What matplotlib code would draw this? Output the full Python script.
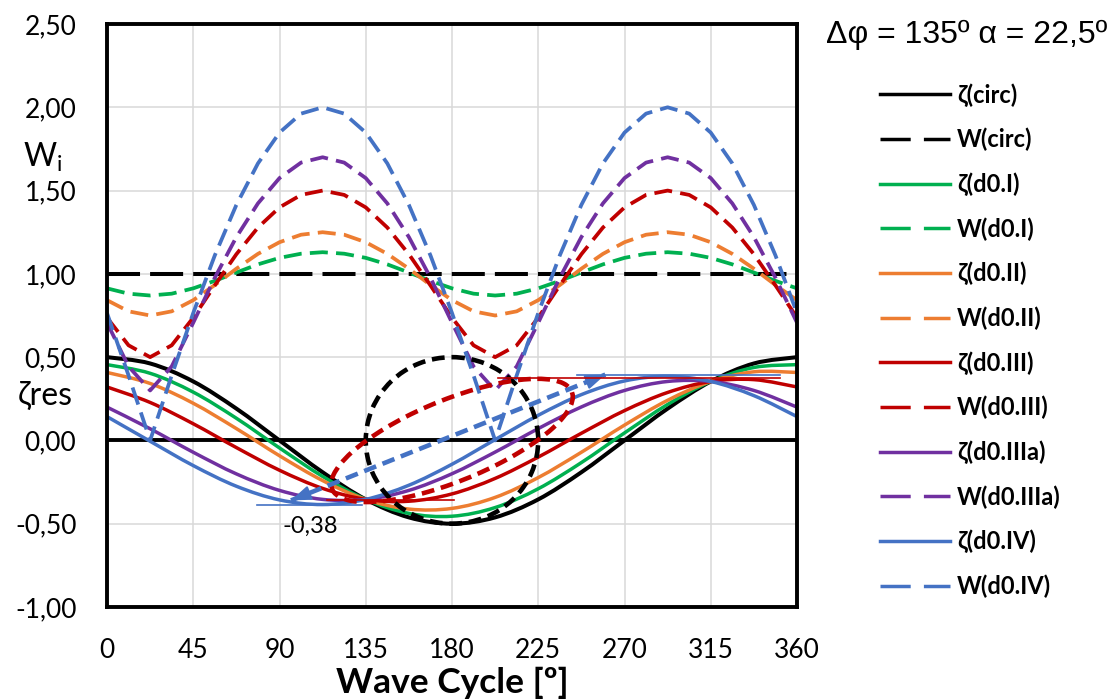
import matplotlib.pyplot as plt
from matplotlib.lines import Line2D
from matplotlib.path import Path
from matplotlib.patches import PathPatch
from matplotlib.ticker import FuncFormatter

plt.rcParams['font.family'] = ['Lato', 'DejaVu Sans']

# --- data ---
x_zeta = [0, 22.5, 45, 67.5, 90, 112.5, 135, 157.5, 180, 202.5, 225, 247.5,
          270, 292.5, 315, 337.5, 360]
zeta_circ = [0.500, 0.462, 0.354, 0.191, 0.000, -0.191, -0.354, -0.462, -0.500,
             -0.462, -0.354, -0.191, 0.000, 0.191, 0.354, 0.462, 0.500]
zeta_i = [0.455, 0.403, 0.290, 0.133, -0.045, -0.216, -0.354, -0.438, -0.455,
          -0.403, -0.290, -0.133, 0.045, 0.216, 0.354, 0.438, 0.455]
zeta_ii = [0.408, 0.342, 0.223, 0.071, -0.092, -0.241, -0.354, -0.412, -0.408,
           -0.342, -0.223, -0.071, 0.092, 0.241, 0.354, 0.412, 0.408]
zeta_iii = [0.321, 0.228, 0.100, -0.043, -0.179, -0.288, -0.354, -0.365, -0.321,
            -0.228, -0.100, 0.043, 0.179, 0.288, 0.354, 0.365, 0.321]
zeta_iiia = [0.200, 0.070, -0.071, -0.201, -0.300, -0.354, -0.354, -0.300, -0.200,
             -0.070, 0.071, 0.201, 0.300, 0.354, 0.354, 0.300, 0.200]
zeta_iv = [0.143, -0.005, -0.151, -0.275, -0.357, -0.385, -0.354, -0.269, -0.143,
           0.005, 0.151, 0.275, 0.357, 0.385, 0.354, 0.269, 0.143]

x_w = [0, 11.25, 22.5, 33.75, 45, 56.25, 67.5, 78.75, 90, 101.25, 112.5, 123.75,
       135, 146.25, 157.5, 168.75, 180, 191.25, 202.5, 213.75, 225, 236.25, 247.5,
       258.75, 270, 281.25, 292.5, 303.75, 315, 326.25, 337.5, 348.75, 360]
x_w_circ = [0, 360]
w_circ = [1.0, 1.0]
w_i = [0.913, 0.881, 0.870, 0.881, 0.913, 0.958, 1.008, 1.057, 1.096, 1.121, 1.130,
       1.121, 1.096, 1.057, 1.008, 0.958, 0.913, 0.881, 0.870, 0.881, 0.913, 0.958,
       1.008, 1.057, 1.096, 1.121, 1.130, 1.121, 1.096, 1.057, 1.008, 0.958, 0.913]
w_ii = [0.842, 0.775, 0.750, 0.775, 0.842, 0.933, 1.031, 1.120, 1.190, 1.235, 1.250,
        1.235, 1.190, 1.120, 1.031, 0.933, 0.842, 0.775, 0.750, 0.775, 0.842, 0.933,
        1.031, 1.120, 1.190, 1.235, 1.250, 1.235, 1.190, 1.120, 1.031, 0.933, 0.842]
w_iii = [0.737, 0.571, 0.500, 0.571, 0.737, 0.931, 1.118, 1.278, 1.399, 1.474, 1.500,
         1.474, 1.399, 1.278, 1.118, 0.931, 0.737, 0.571, 0.500, 0.571, 0.737, 0.931,
         1.118, 1.278, 1.399, 1.474, 1.500, 1.474, 1.399, 1.278, 1.118, 0.931, 0.737]
w_iiia = [0.707, 0.444, 0.300, 0.444, 0.707, 0.977, 1.221, 1.423, 1.575, 1.668, 1.700,
          1.668, 1.575, 1.423, 1.221, 0.977, 0.707, 0.444, 0.300, 0.444, 0.707, 0.977,
          1.221, 1.423, 1.575, 1.668, 1.700, 1.668, 1.575, 1.423, 1.221, 0.977, 0.707]
w_iv = [0.765, 0.390, 0.000, 0.390, 0.765, 1.111, 1.414, 1.663, 1.848, 1.962, 2.000,
        1.962, 1.848, 1.663, 1.414, 1.111, 0.765, 0.390, 0.000, 0.390, 0.765, 1.111,
        1.414, 1.663, 1.848, 1.962, 2.000, 1.962, 1.848, 1.663, 1.414, 1.111, 0.765]

# particle orbits drawn over the chart
orbit_circ_x = [180, 188.8, 197.2, 205.0, 211.8, 217.4, 221.6, 224.1, 225, 224.1, 221.6,
                217.4, 211.8, 205.0, 197.2, 188.8, 180, 171.2, 162.8, 155.0, 148.2, 142.6,
                138.4, 135.9, 135, 135.9, 138.4, 142.6, 148.2, 155.0, 162.8, 171.2, 180]
orbit_circ_y = [0.5, 0.490, 0.462, 0.416, 0.354, 0.278, 0.191, 0.098, 0, -0.098, -0.191,
                -0.278, -0.354, -0.416, -0.462, -0.490, -0.5, -0.490, -0.462, -0.416,
                -0.354, -0.278, -0.191, -0.098, 0, 0.098, 0.191, 0.278, 0.354, 0.416,
                0.462, 0.490, 0.5]
orbit_iii_x = [224.5, 232.4, 238.2, 241.8, 243.0, 241.8, 238.2, 232.4, 224.5, 215.0, 204.1,
               192.3, 180.0, 167.7, 155.9, 145.0, 135.5, 127.6, 121.8, 118.2, 117.0, 118.2,
               121.8, 127.6, 135.5, 145.0, 155.9, 167.7, 180.0, 192.3, 204.1, 215.0, 224.5]
orbit_iii_y = [0.370, 0.363, 0.342, 0.308, 0.262, 0.206, 0.142, 0.072, 0, -0.072, -0.142,
               -0.206, -0.262, -0.308, -0.342, -0.363, -0.370, -0.363, -0.342, -0.308,
               -0.262, -0.206, -0.142, -0.072, 0, 0.072, 0.142, 0.206, 0.262, 0.308,
               0.342, 0.363, 0.370]
orbit_iv_x = [96, 260]
orbit_iv_y = [-0.36, 0.395]

# thin marker lines for the extremes
min_iv_x, min_iv_y = [78, 133], [-0.385, -0.385]
min_iii_x, min_iii_y = [115, 181], [-0.36, -0.36]
max_iv_x, max_iv_y = [245, 351], [0.39, 0.39]
max_iii_x, max_iii_y = [204, 351], [0.372, 0.372]
min_label = '-0,38'

x_ticks = [0, 45, 90, 135, 180, 225, 270, 315, 360]
y_ticks = [-1.0, -0.5, 0.0, 0.5, 1.0, 1.5, 2.0, 2.5]

C_BLACK = '#000000'
C_GREEN = '#00B050'
C_ORANGE = '#ED7D31'
C_RED = '#C00000'
C_PURPLE = '#7030A0'
C_BLUE = '#4472C4'

series = [
    ('ζ(circ)', x_zeta, zeta_circ, C_BLACK, False),
    ('W(circ)', x_w_circ, w_circ, C_BLACK, True),
    ('ζ(d0.I)', x_zeta, zeta_i, C_GREEN, False),
    ('W(d0.I)', x_w, w_i, C_GREEN, True),
    ('ζ(d0.II)', x_zeta, zeta_ii, C_ORANGE, False),
    ('W(d0.II)', x_w, w_ii, C_ORANGE, True),
    ('ζ(d0.III)', x_zeta, zeta_iii, C_RED, False),
    ('W(d0.III)', x_w, w_iii, C_RED, True),
    ('ζ(d0.IIIa)', x_zeta, zeta_iiia, C_PURPLE, False),
    ('W(d0.IIIa)', x_w, w_iiia, C_PURPLE, True),
    ('ζ(d0.IV)', x_zeta, zeta_iv, C_BLUE, False),
    ('W(d0.IV)', x_w, w_iv, C_BLUE, True),
]


# smoothed line through the points (like Excel's "smoothed line")
def smooth_line(ax, xs, ys, closed=False, **kw):
    pts = list(zip(xs, ys))
    n = len(pts)
    verts = [pts[0]]
    codes = [Path.MOVETO]
    for i in range(n - 1):
        p0 = pts[i - 1] if i > 0 else (pts[-2] if closed else pts[0])
        p1, p2 = pts[i], pts[i + 1]
        p3 = pts[i + 2] if i + 2 < n else (pts[1] if closed else pts[-1])
        c1 = (p1[0] + (p2[0] - p0[0]) / 6, p1[1] + (p2[1] - p0[1]) / 6)
        c2 = (p2[0] - (p3[0] - p1[0]) / 6, p2[1] - (p3[1] - p1[1]) / 6)
        verts += [c1, c2, p2]
        codes += [Path.CURVE4] * 3
    ax.add_patch(PathPatch(Path(verts, codes), fill=False, **kw))


# --- figure ---
fig = plt.figure(figsize=(11.14, 6.99), dpi=100)
ax = fig.add_axes([107 / 1114, 1 - 607 / 699, 690 / 1114, 583 / 699])

ax.grid(True, color='#D9D9D9', lw=1.1)
ax.set_axisbelow(True)
ax.axhline(0, color=C_BLACK, lw=2.8, zorder=1.5)

handles = []
for label, xs, ys, col, dashed in series:
    if dashed:
        dash = (8.2, 2.5) if col == C_BLACK else (4.8, 2.2)
        lw = 2.9 if col == C_BLACK else 2.7
        ax.plot(xs, ys, color=col, lw=lw, dashes=dash, zorder=2)
        handles.append(Line2D([], [], color=col, lw=2.5, dashes=(8.7, 3.8), label=label))
    else:
        lw = 2.9 if col == C_BLACK else 2.5
        smooth_line(ax, xs, ys, edgecolor=col, lw=lw, zorder=2)
        handles.append(Line2D([], [], color=col, lw=2.5, label=label))

# orbits
smooth_line(ax, orbit_circ_x, orbit_circ_y, closed=True, edgecolor=C_BLACK, lw=3.3,
            linestyle=(0, (2.8, 1.5)), zorder=3)
smooth_line(ax, orbit_iii_x, orbit_iii_y, closed=True, edgecolor=C_RED, lw=3.3,
            linestyle=(0, (2.8, 1.5)), zorder=3)
ax.plot(orbit_iv_x, orbit_iv_y, color=C_BLUE, lw=3.3, dashes=(2.8, 1.5), zorder=3)
ax.annotate('', xy=(orbit_iv_x[0], orbit_iv_y[0]), xytext=(106, -0.314),
            arrowprops=dict(arrowstyle='-|>,head_length=0.6,head_width=0.22',
                            color=C_BLUE, lw=1.5, mutation_scale=20,
                            shrinkA=0, shrinkB=0), zorder=3)
ax.annotate('', xy=(orbit_iv_x[1], orbit_iv_y[1]), xytext=(250, 0.349),
            arrowprops=dict(arrowstyle='-|>,head_length=0.6,head_width=0.22',
                            color=C_BLUE, lw=1.5, mutation_scale=20,
                            shrinkA=0, shrinkB=0), zorder=3)

ax.plot(min_iv_x, min_iv_y, color=C_BLUE, lw=1.2, zorder=3)
ax.plot(min_iii_x, min_iii_y, color=C_RED, lw=1.2, zorder=3)
ax.plot(max_iv_x, max_iv_y, color=C_BLUE, lw=1.2, zorder=3)
ax.plot(max_iii_x, max_iii_y, color=C_RED, lw=1.2, zorder=3)
ax.text(106, -0.513, min_label, ha='center', va='center', fontsize=17)

ax.set_xlim(0, 360)
ax.set_ylim(-1.0, 2.5)
ax.set_xticks(x_ticks)
ax.set_yticks(y_ticks)
ax.yaxis.set_major_formatter(FuncFormatter(lambda v, p: f'{v:.2f}'.replace('.', ',')))
ax.tick_params(axis='both', length=0, labelsize=19)
ax.tick_params(axis='y', pad=22)
ax.tick_params(axis='x', pad=22)
for sp in ax.spines.values():
    sp.set_color(C_BLACK)
    sp.set_linewidth(2.8)

# axis titles
fig.text(452 / 1114, 6 / 699, 'Wave Cycle [º]', ha='center', va='baseline',
         fontsize=25.5, fontweight='bold')
fig.text(23 / 1114, 1 - 167 / 699, 'W$_\\mathregular{i}$', ha='left', va='baseline',
         fontsize=23)
fig.text(18 / 1114, 1 - 405 / 699, 'ζres', ha='left', va='baseline', fontsize=23)

# legend and its heading
fig.text(826 / 1114, 1 - 43 / 699, 'Δφ = 135º α = 22,5º', ha='left', va='baseline',
         fontsize=23, family=['Liberation Sans', 'DejaVu Sans'])
fig.legend(handles=handles, loc='upper left', bbox_to_anchor=(880 / 1114, 1 - 83 / 699),
           frameon=False, borderpad=0, borderaxespad=0, handlelength=2.96,
           handletextpad=0.3, labelspacing=0.895,
           prop={'size': 17, 'weight': 'bold'})

fig.savefig('out.png', dpi=100)
